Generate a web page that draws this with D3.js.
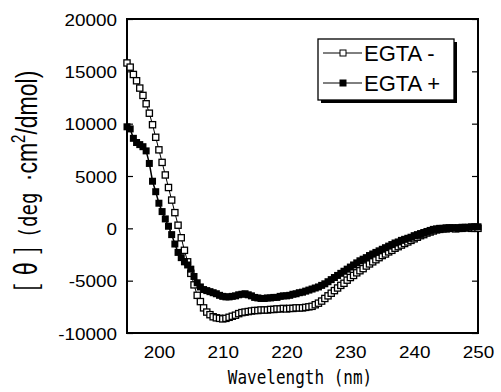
<!DOCTYPE html>
<html><head><meta charset="utf-8">
<script src="https://cdn.jsdelivr.net/npm/d3@7"></script>
<style>
html,body{margin:0;padding:0;background:#fff;}
svg{display:block;}
</style></head>
<body>
<svg id="chart" width="501" height="392"></svg>
<script>
// Wavelength grid (nm), 0.5 nm steps
const wavelengths = d3.range(195, 250.01, 0.5);
// EGTA - (open squares), mean residue ellipticity
const egtaMinus = [
15800,15400,14700,14100,13400,12700,11900,11000,9900,8700,
7500,6300,5100,3900,2700,1500,300,-900,-2100,-3200,
-4300,-5400,-6400,-7000,-7600,-8000,-8250,-8450,-8550,-8600,
-8650,-8600,-8500,-8400,-8300,-8150,-8050,-8000,-7950,-7900,
-7850,-7850,-7800,-7800,-7800,-7750,-7750,-7700,-7700,-7650,
-7700,-7650,-7650,-7600,-7600,-7600,-7550,-7500,-7450,-7300,
-7150,-6950,-6700,-6450,-6200,-5950,-5700,-5450,-5250,-4950,
-4700,-4500,-4250,-4050,-3850,-3600,-3400,-3200,-3000,-2800,
-2600,-2450,-2250,-2100,-1900,-1750,-1600,-1450,-1300,-1150,
-1000,-850,-700,-600,-450,-350,-250,-150,-100,-50,
-50,0,0,-50,0,0,50,50,0,0,
0];
// EGTA + (filled squares)
const egtaPlus = [
9700,9500,8600,8200,8000,7800,7400,6200,4500,3500,
2400,1600,900,200,-600,-1500,-2300,-2800,-3200,-3500,
-3900,-4600,-5200,-5600,-5850,-5950,-6050,-6150,-6250,-6400,
-6500,-6550,-6550,-6500,-6450,-6350,-6300,-6250,-6350,-6450,
-6600,-6650,-6700,-6700,-6650,-6650,-6600,-6600,-6500,-6450,
-6450,-6400,-6300,-6250,-6150,-6100,-6000,-5900,-5800,-5700,
-5600,-5450,-5300,-5100,-4900,-4700,-4500,-4300,-4100,-3900,
-3700,-3500,-3300,-3100,-2950,-2800,-2600,-2450,-2300,-2150,
-2000,-1850,-1700,-1550,-1400,-1300,-1150,-1050,-950,-850,
-700,-600,-500,-400,-300,-200,-100,-50,0,0,
50,50,50,50,50,100,100,100,150,150,
150];
const xTicks = [200,210,220,230,240,250];
const yTicks = [-10000,-5000,0,5000,10000,15000,20000];
const seriesNames = ["EGTA -","EGTA +"];

const svg = d3.select("#chart");
const L=127, R=478, T=19, B=333;
const x = d3.scaleLinear().domain([195,250]).range([L,R]);
const y = d3.scaleLinear().domain([-10000,20000]).range([B,T]);
const fmt = d => String(d);

// y axis left (ticks inward)
const gy = svg.append("g").attr("transform",`translate(${L},0)`)
  .call(d3.axisLeft(y).tickValues(yTicks).tickSize(-6).tickFormat(fmt).tickPadding(0));
gy.select(".domain").remove();
gy.selectAll("line").attr("stroke","#000").attr("stroke-width",1.2);
gy.selectAll("text").attr("x",0).attr("dy","0.36em")
  .attr("transform","translate(-10,0) scale(1.18,1.05)")
  .attr("font-family","'Liberation Sans',Arial,sans-serif").attr("font-size",16).attr("fill","#000");

// right axis ticks inward
const gr = svg.append("g").attr("transform",`translate(${R},0)`)
  .call(d3.axisRight(y).tickValues(yTicks).tickSize(-6).tickFormat(""));
gr.select(".domain").remove();
gr.selectAll("line").attr("stroke","#000").attr("stroke-width",1.2);

// x axis labels
const gx = svg.append("g").attr("transform",`translate(0,${B})`)
  .call(d3.axisBottom(x).tickValues(xTicks).tickSize(0).tickFormat(fmt));
gx.select(".domain").remove();
gx.selectAll("text").attr("y",0).attr("dy","0.36em")
  .attr("transform","translate(0,19) scale(1.18,1.05)")
  .attr("font-family","'Liberation Sans',Arial,sans-serif").attr("font-size",16).attr("fill","#000");

// frame
svg.append("rect").attr("x",L).attr("y",T).attr("width",R-L).attr("height",B-T)
  .attr("fill","none").attr("stroke","#000").attr("stroke-width",2);

const line = d3.line().x((d,i)=>x(wavelengths[i])).y(d=>y(d));
const plot = svg.append("g");
// open series
plot.append("path").datum(egtaMinus).attr("d",line).attr("fill","none").attr("stroke","#000").attr("stroke-width",1);
plot.selectAll("rect.om").data(egtaMinus).enter().append("rect").attr("class","om")
  .attr("x",(d,i)=>x(wavelengths[i])-3.1).attr("y",d=>y(d)-3.1).attr("width",6.2).attr("height",6.2)
  .attr("fill","#fff").attr("stroke","#000").attr("stroke-width",1.3);
// filled series
plot.append("path").datum(egtaPlus).attr("d",line).attr("fill","none").attr("stroke","#000").attr("stroke-width",1.5);
plot.selectAll("rect.fp").data(egtaPlus).enter().append("rect").attr("class","fp")
  .attr("x",(d,i)=>x(wavelengths[i])-3.5).attr("y",d=>y(d)-3.5).attr("width",7).attr("height",7)
  .attr("fill","#000");

// legend
const lg = svg.append("g");
lg.append("rect").attr("x",321).attr("y",42).attr("width",136).attr("height",61).attr("fill","#000");
lg.append("rect").attr("x",318).attr("y",39).attr("width",136).attr("height",61).attr("fill","#fff").attr("stroke","#000").attr("stroke-width",1.3);
seriesNames.forEach((name,i)=>{
  const yy = 53 + i*30;
  lg.append("line").attr("x1",323).attr("x2",362).attr("y1",yy).attr("y2",yy).attr("stroke","#000").attr("stroke-width",1);
  lg.append("rect").attr("x",340).attr("y",yy-3).attr("width",6).attr("height",6)
    .attr("fill", i===0?"#fff":"#000").attr("stroke","#000").attr("stroke-width",1);
  lg.append("text").attr("x",364).attr("y",yy).attr("dy","0.36em")
    .attr("font-family","'Liberation Sans',Arial,sans-serif").attr("font-size",22).attr("fill","#000").text(name);
});

// x axis title
svg.append("text").attr("text-anchor","middle").attr("transform","translate(300,384) scale(1,1.18)")
  .attr("font-family","'DejaVu Sans Mono',monospace").attr("font-size",16).attr("fill","#000")
  .text("Wavelength (nm)");

// y axis title
const yt = svg.append("text").attr("text-anchor","middle")
  .attr("transform","translate(37,181) rotate(-90) scale(1,1.3)").attr("fill","#000");
yt.append("tspan").attr("font-family","'Noto Sans CJK JP',sans-serif").attr("font-size",23).attr("letter-spacing",8).text("[θ]");
yt.append("tspan").attr("font-family","'DejaVu Sans Mono',monospace").attr("font-size",19).text("(deg ");
yt.append("tspan").attr("font-family","'Liberation Sans',Arial,sans-serif").attr("font-size",23).text("·cm");
yt.append("tspan").attr("font-family","'Liberation Sans',Arial,sans-serif").attr("font-size",15).attr("dy",-9).text("2");
yt.append("tspan").attr("font-family","'Liberation Sans',Arial,sans-serif").attr("font-size",23).attr("dy",9).text("/dmol)");
</script>
</body></html>
